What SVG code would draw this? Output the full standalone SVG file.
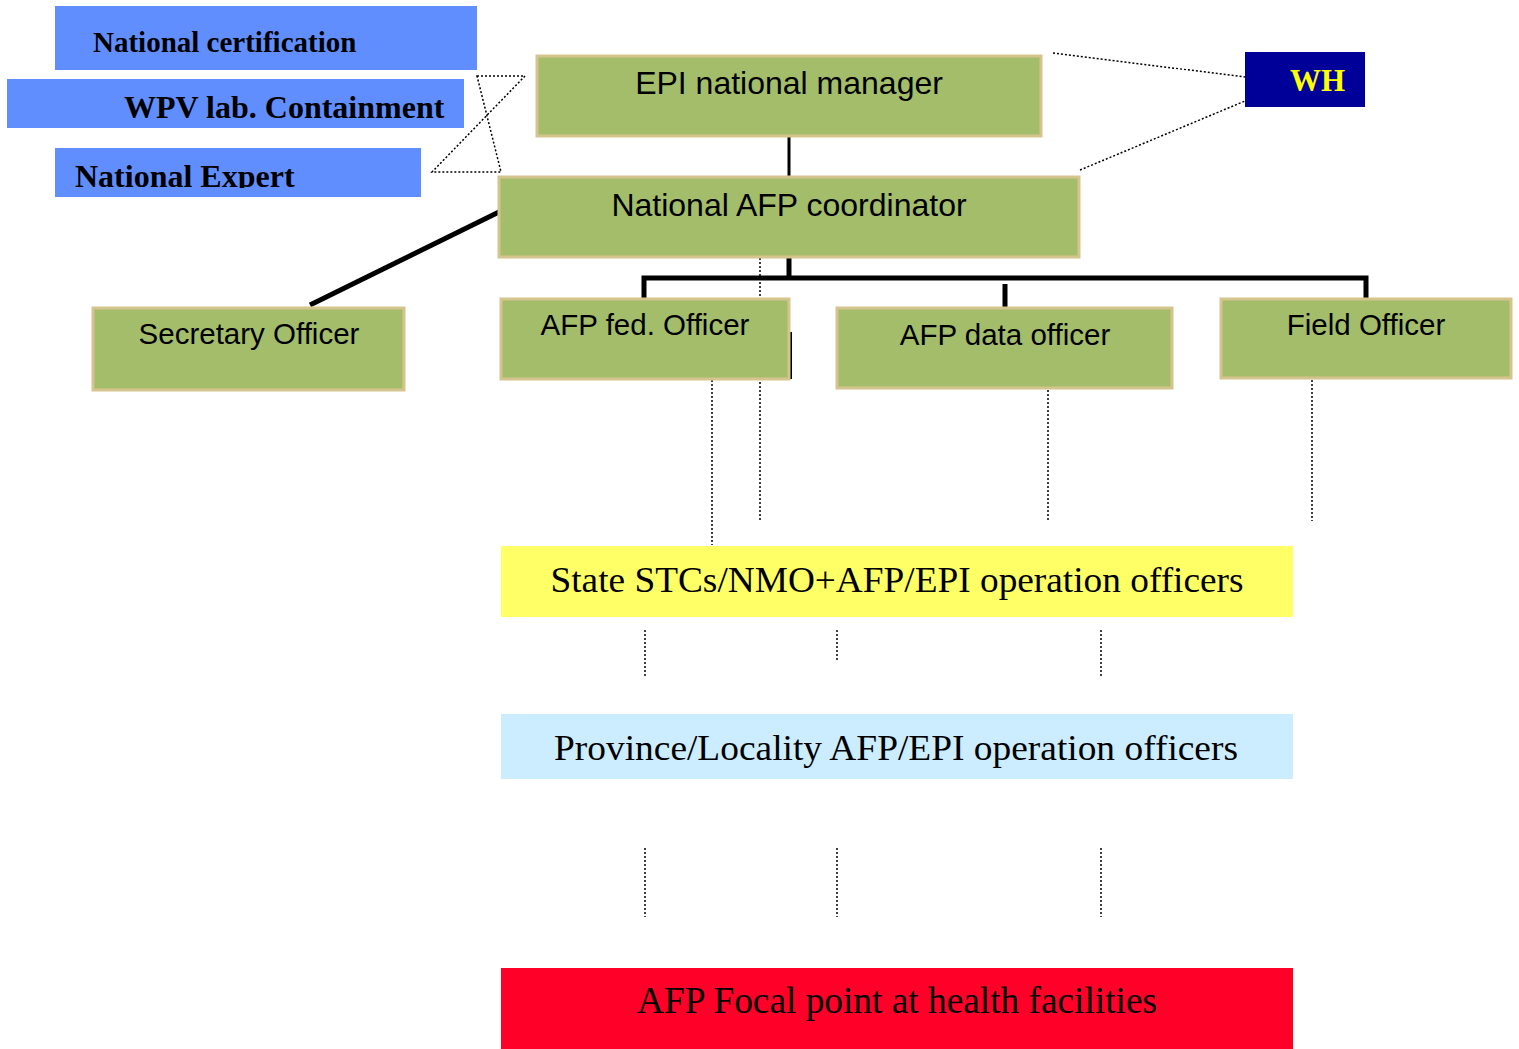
<svg xmlns="http://www.w3.org/2000/svg" width="1519" height="1049" viewBox="0 0 1519 1049">
<style>
.bl{fill:#618EFF}
.bt{font-family:"Liberation Serif",serif;font-weight:bold;fill:#000}
.gr{fill:#A3BD6B;stroke:#D6C48E;stroke-width:3}
.gt{font-family:"Liberation Sans",Arial,sans-serif;font-size:29.5px;fill:#000;text-anchor:middle}
.gt2{font-size:32px}
.st{font-family:"Liberation Serif",serif;fill:#000;text-anchor:middle}
.sol{stroke:#000;fill:none}
.dot{stroke:#000;stroke-width:1.5;fill:none;stroke-dasharray:2 2}
</style>
<defs>
<clipPath id="ceClip"><rect x="55" y="148" width="366" height="40"/></clipPath>
</defs>
<g id="connectors">
<path class="dot" d="M477,76 H525 L432,172 H501 Z"/>
<path class="dot" d="M1053,53 L1245,77 M1080,170 L1245,101"/>
<path class="dot" d="M760,258 V521"/>
<path class="dot" d="M712,380 V545"/>
<path class="dot" d="M1048,390 V521"/>
<path class="dot" d="M1312,380 V521"/>
<path class="dot" d="M645,630 V678 M837,630 V662 M1101,630 V678"/>
<path class="dot" d="M645,848 V917 M837,848 V917 M1101,848 V917"/>
<path class="sol" stroke-width="3" d="M789,136 V176"/>
<path class="sol" stroke-width="5" d="M501,211 L310,305"/>
<path class="sol" stroke-width="5" d="M789,258 V278 M644,298 V278 H1366 V298 M1005,284 V307"/>
<path class="sol" stroke-width="2" d="M791,332 V379"/>
</g>
<g id="n-national-certification">
<rect class="bl" x="55" y="6" width="422" height="64"/>
<text class="bt" x="93" y="52" font-size="29">National certification</text>
</g>
<g id="n-wpv-lab">
<rect class="bl" x="7" y="79" width="457" height="49"/>
<text class="bt" x="124" y="118" font-size="32">WPV lab. Containment</text>
</g>
<g id="n-national-expert">
<rect class="bl" x="55" y="148" width="366" height="49"/>
<text class="bt" x="75" y="187" font-size="32" clip-path="url(#ceClip)">National Expert</text>
</g>
<g id="n-wh">
<rect x="1245" y="52" width="120" height="55" fill="#000099"/>
<text class="bt" x="1290" y="91" font-size="31" style="fill:#FFFF00">WH</text>
</g>
<g id="n-epi-manager">
<rect class="gr" x="537" y="56" width="504" height="80"/>
<text class="gt gt2" x="789" y="94">EPI national manager</text>
</g>
<g id="n-afp-coordinator">
<rect class="gr" x="499" y="177" width="580" height="80"/>
<text class="gt gt2" x="789" y="216">National AFP coordinator</text>
</g>
<g id="n-secretary">
<rect class="gr" x="93" y="308" width="311" height="82"/>
<text class="gt" x="249" y="344">Secretary Officer</text>
</g>
<g id="n-afp-fed">
<rect class="gr" x="501" y="299" width="288" height="80"/>
<text class="gt" x="645" y="335">AFP fed. Officer</text>
</g>
<g id="n-afp-data">
<rect class="gr" x="837" y="308" width="335" height="80"/>
<text class="gt" x="1005" y="345">AFP data officer</text>
</g>
<g id="n-field">
<rect class="gr" x="1221" y="299" width="290" height="79"/>
<text class="gt" x="1366" y="335">Field Officer</text>
</g>
<g id="n-state">
<rect x="501" y="546" width="792" height="71" fill="#FFFF66"/>
<text class="st" x="897" y="592" font-size="36" textLength="693" lengthAdjust="spacingAndGlyphs">State STCs/NMO+AFP/EPI operation officers</text>
</g>
<g id="n-province">
<rect x="501" y="714" width="792" height="65" fill="#CCECFF"/>
<text class="st" x="896" y="760" font-size="36" textLength="684" lengthAdjust="spacingAndGlyphs">Province/Locality AFP/EPI operation officers</text>
</g>
<g id="n-focal">
<rect x="501" y="968" width="792" height="81" fill="#FF0028"/>
<text class="st" x="897" y="1013" font-size="38" textLength="520" lengthAdjust="spacingAndGlyphs">AFP Focal point at health facilities</text>
</g>
</svg>
